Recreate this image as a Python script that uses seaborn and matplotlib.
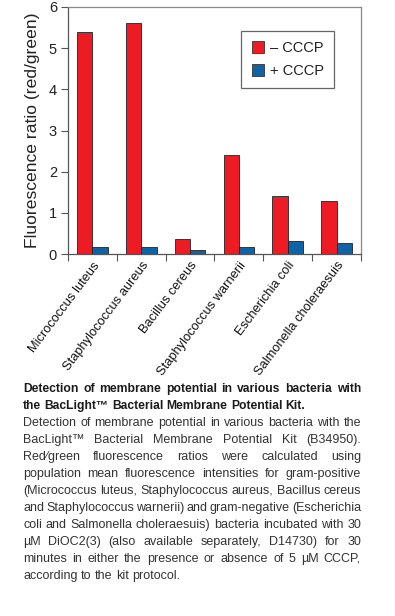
import matplotlib
matplotlib.use("Agg")
import matplotlib.pyplot as plt
import seaborn as sns
import pandas as pd
from matplotlib.lines import Line2D

species = ["Micrococcus luteus", "Staphylococcus aureus", "Bacillus cereus",
           "Staphylococcus warnerii", "Escherichia coli", "Salmonella choleraesuis"]
minus_cccp = [5.4, 5.6, 0.37, 2.4, 1.4, 1.28]
plus_cccp = [0.17, 0.17, 0.10, 0.17, 0.32, 0.27]
conditions = ["\u2013 CCCP", "+ CCCP"]
yticks = [0, 1, 2, 3, 4, 5, 6]
ylabel = "Fluorescence ratio (red/green)"

caption_bold = ["Detection of membrane potential in various bacteria with",
                "the BacLight\u2122 Bacterial Membrane Potential Kit."]
caption_body = ["Detection of membrane potential in various bacteria with the",
                "BacLight\u2122 Bacterial Membrane Potential Kit (B34950).",
                "Red\u2044green fluorescence ratios were calculated using",
                "population mean fluorescence intensities for gram-positive",
                "(Micrococcus luteus, Staphylococcus aureus, Bacillus cereus",
                "and Staphylococcus warnerii) and gram-negative (Escherichia",
                "coli and Salmonella choleraesuis) bacteria incubated with 30",
                "\u00b5M DiOC2(3) (also available separately, D14730) for 30",
                "minutes in either the presence or absence of 5 \u00b5M CCCP,",
                "according to the kit protocol."]

sns.set_theme(style="white")
plt.rcParams['font.family'] = ['Liberation Sans', 'DejaVu Sans']

df = pd.DataFrame({
    "species": species * 2,
    "value": minus_cccp + plus_cccp,
    "condition": [conditions[0]] * len(species) + [conditions[1]] * len(species),
})

W, H = 395, 616
fig = plt.figure(figsize=(W / 100, H / 100), dpi=100)
ax = fig.add_axes([68 / W, 1 - 254 / H, (361 - 68) / W, (254 - 7) / H])

red = "#ED1C24"
blue = "#0D63A5"
sns.barplot(data=df, x="species", y="value", hue="condition",
            palette=[red, blue], saturation=1, width=0.63, gap=0, dodge=True,
            edgecolor="#222222", linewidth=0.6, ax=ax, legend=False)

ax.set_xlim(-0.5, len(species) - 0.5)
ax.set_ylim(0, 6)
ax.set_yticks(yticks)
ax.set_yticklabels([str(t) for t in yticks], fontsize=10.5, color="#222222")
ax.set_ylabel(ylabel, fontsize=12.6, color="#222222", labelpad=6)
ax.set_xlabel("")
ax.set_xticks(range(len(species)))
ax.set_xticklabels(species, rotation=53, ha="right", va="top", rotation_mode="anchor",
                   fontsize=9.3, color="#111111")
ax.tick_params(axis="x", which="major", length=0, pad=4)
ax.set_xticks([i - 0.5 for i in range(len(species) + 1)], minor=True)
ax.tick_params(axis="x", which="minor", length=5, width=0.8, color="#555555",
               direction="out", bottom=True)
ax.tick_params(axis="y", length=5, width=0.8, color="#555555", direction="out", left=True, pad=3)
for s in ["top", "right"]:
    ax.spines[s].set_color("#888888")
    ax.spines[s].set_linewidth(0.9)
for s in ["left", "bottom"]:
    ax.spines[s].set_color("#555555")
    ax.spines[s].set_linewidth(0.9)

handles = [Line2D([], [], marker="s", linestyle="none", markersize=8,
                  markerfacecolor=c, markeredgecolor="#333333", markeredgewidth=0.6)
           for c in [red, blue]]
leg = ax.legend(handles, conditions, loc="upper right",
                bbox_to_anchor=((334 - 68) / 293, (254 - 31) / 247),
                fontsize=10.5, frameon=True, fancybox=False, framealpha=1,
                edgecolor="#666666", borderpad=0.7, labelspacing=0.6,
                handletextpad=0.3, handlelength=1.0, borderaxespad=0)
leg.get_frame().set_linewidth(0.9)
for t in leg.get_texts():
    t.set_color("#222222")

# justified caption text
renderer = fig.canvas.get_renderer()
x0_px, x1_px = 23, 361


def draw_line(line, y_px, weight, color, justify, fs):
    words = line.split(" ")
    texts = []
    widths = []
    for w in words:
        t = fig.text(0, 1 - y_px / H, w, fontsize=fs, fontweight=weight,
                     color=color, va="center", ha="left")
        bb = t.get_window_extent(renderer=renderer)
        texts.append(t)
        widths.append(bb.width)
    s1 = fig.text(0, 0, "a a", fontsize=fs, fontweight=weight)
    s2 = fig.text(0, 0, "aa", fontsize=fs, fontweight=weight)
    sw = s1.get_window_extent(renderer=renderer).width - s2.get_window_extent(renderer=renderer).width
    s1.remove()
    s2.remove()
    total = sum(widths)
    if justify and len(words) > 1:
        gap = (x1_px - x0_px - total) / (len(words) - 1)
    else:
        gap = sw
    x = x0_px
    for t, w in zip(texts, widths):
        t.set_x(x / W)
        x += w + gap


y = 389
for i, line in enumerate(caption_bold):
    draw_line(line, y, "bold", "#1a1a1a", i < len(caption_bold) - 1, 8.7)
    y += 16.9
for i, line in enumerate(caption_body):
    draw_line(line, y, "normal", "#333333", i < len(caption_body) - 1, 9.0)
    y += 17.0

fig.savefig("out.png", dpi=100)
